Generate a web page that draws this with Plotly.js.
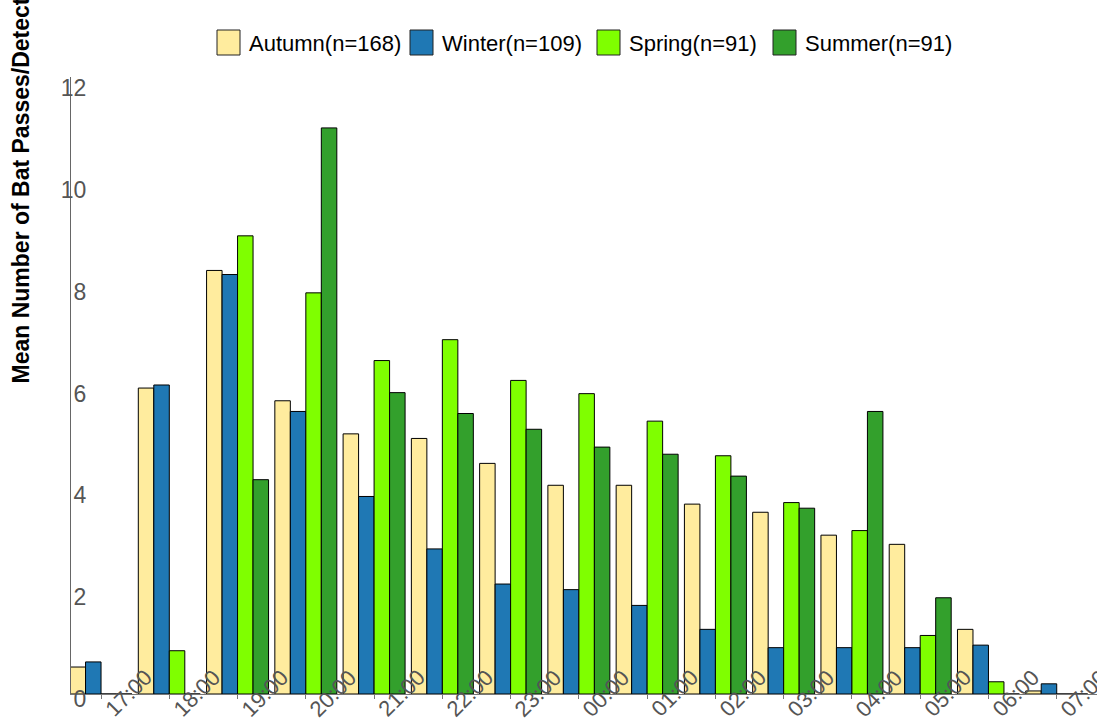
<!DOCTYPE html>
<html>
<head>
<meta charset="utf-8">
<script src="https://cdn.plot.ly/plotly-3.0.1.min.js"></script>
<style>
  html, body { margin: 0; padding: 0; background: #fff; }
  #chart { width: 1097px; height: 718px; }
</style>
</head>
<body>
<div id="chart"></div>
<script>
// hour of night (category labels)
const hours = ['17:00', '18:00', '19:00', '20:00', '21:00', '22:00', '23:00', '00:00',
               '01:00', '02:00', '03:00', '04:00', '05:00', '06:00', '07:00'];

// mean bat passes per detector per night
const autumn = [0.53, 6.01, 8.32, 5.76, 5.11, 5.02, 4.53, 4.10, 4.10, 3.73, 3.57, 3.12, 2.94, 1.27, 0.06];
const winter = [0.63, 6.07, 8.24, 5.55, 3.88, 2.85, 2.16, 2.05, 1.74, 1.27, 0.91, 0.91, 0.91, 0.96, 0.20];
const spring = [0, 0.85, 9.00, 7.88, 6.55, 6.96, 6.16, 5.90, 5.36, 4.68, 3.76, 3.21, 1.15, 0.24, 0];
const summer = [0, 0, 4.21, 11.12, 5.92, 5.51, 5.20, 4.85, 4.71, 4.28, 3.65, 5.55, 1.89, 0, 0];

const seriesNames = ['Autumn(n=168)', 'Winter(n=109)', 'Spring(n=91)', 'Summer(n=91)'];
const seriesColors = ['#FFEC9E', '#1F78B4', '#7FFF00', '#33A02C'];
const yTicks = [0, 2, 4, 6, 8, 10, 12];

const FONT = 'Arial, "Liberation Sans", sans-serif';

// plot box in pixels (used to place the hand-made legend)
const W = 1097, H = 718;
const M = { l: 71, r: 0, t: 77, b: 24 };
const plotW = W - M.l - M.r;
const plotH = H - M.t - M.b;
const px2x = px => (px - M.l) / plotW;
const py2y = py => (H - M.b - py) / plotH;

const xIdx = hours.map((h, i) => i);

const traces = [autumn, winter, spring, summer].map((vals, k) => ({
    type: 'bar',
    x: xIdx,
    y: vals,
    name: seriesNames[k],
    marker: { color: seriesColors[k], line: { color: '#000', width: 1 } },
    hoverinfo: 'y+name'
}));

// rotated hour labels sitting across the x axis line
const hourLabels = hours.map((h, i) => ({
    x: i,
    y: 0,
    xref: 'x',
    yref: 'y',
    text: h,
    showarrow: false,
    textangle: -45,
    xanchor: 'center',
    yanchor: 'middle',
    xshift: 27,
    yshift: 1,
    font: { family: FONT, size: 22, color: '#555' }
}));

const yTitle = {
    xref: 'paper',
    yref: 'paper',
    x: px2x(20),
    y: py2y(386),
    xanchor: 'center',
    yanchor: 'bottom',
    textangle: -90,
    showarrow: false,
    text: '<b>Mean Number of Bat Passes/Detector/Night</b>',
    font: { family: FONT, size: 23, color: '#000' }
};

// legend drawn by hand so the keys are big boxes like the original
const legendLeft = [217, 410, 597, 773];
const legendShapes = [];
const legendTexts = [];
seriesNames.forEach((name, k) => {
    const x0 = legendLeft[k];
    legendShapes.push({
        type: 'rect', xref: 'paper', yref: 'paper',
        x0: px2x(x0), x1: px2x(x0 + 23), y0: py2y(55), y1: py2y(30),
        fillcolor: seriesColors[k], line: { color: '#222', width: 1 }
    });
    legendTexts.push({
        xref: 'paper', yref: 'paper',
        x: px2x(x0 + 30), y: py2y(43),
        xanchor: 'left', yanchor: 'middle',
        showarrow: false, text: name,
        font: { family: FONT, size: 22, color: '#000' }
    });
});

const layout = {
    width: W,
    height: H,
    margin: M,
    paper_bgcolor: '#fff',
    plot_bgcolor: '#fff',
    barmode: 'group',
    bargap: 0.092,
    bargroupgap: 0,
    showlegend: false,
    xaxis: {
        type: 'linear',
        range: [-0.44, 14.59],
        tickvals: xIdx,
        showticklabels: false,
        ticks: 'outside',
        ticklen: 4,
        tickcolor: '#777',
        showline: true,
        linecolor: '#777',
        linewidth: 1,
        showgrid: false,
        zeroline: false,
        fixedrange: true
    },
    yaxis: {
        range: [0, 12.12],
        tickvals: yTicks,
        ticks: '',
        ticklabelstandoff: -21,
        ticklabelshift: 5,
        tickfont: { family: FONT, size: 23, color: '#555' },
        showline: true,
        linecolor: '#666',
        linewidth: 1,
        showgrid: false,
        zeroline: false,
        fixedrange: true
    },
    shapes: legendShapes,
    annotations: hourLabels.concat([yTitle], legendTexts)
};

Plotly.newPlot('chart', traces, layout, { displayModeBar: false, staticPlot: true });
</script>
</body>
</html>
